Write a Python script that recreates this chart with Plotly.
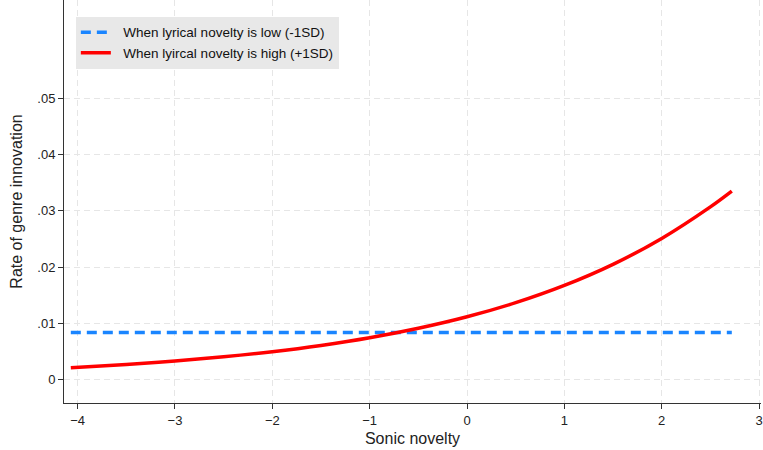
import plotly.graph_objects as go

# Data
sonic_x = [-4.07, -3.5, -3.0, -2.5, -2.0, -1.5, -1.0, -0.5, 0.0, 0.5, 1.0, 1.5, 2.0, 2.5, 2.72]
low_lyrical = [0.0084] * len(sonic_x)
high_lyrical = [0.00217, 0.00273, 0.00334, 0.00409, 0.0050, 0.00612, 0.00748, 0.00916,
                0.0112, 0.0137, 0.01676, 0.0205, 0.0251, 0.0307, 0.0335]

x_ticks = [-4, -3, -2, -1, 0, 1, 2, 3]
y_ticks = [0, 0.01, 0.02, 0.03, 0.04, 0.05]
y_tick_labels = ["0", ".01", ".02", ".03", ".04", ".05"]

FONT = "Liberation Sans, Arial, Helvetica, sans-serif"

fig = go.Figure()
fig.add_trace(go.Scatter(
    x=sonic_x, y=low_lyrical, mode="lines",
    name="  When lyrical novelty is low (-1SD)",
    line=dict(color="#1a85ff", width=3.5, dash="10px,6px"),
))
fig.add_trace(go.Scatter(
    x=sonic_x, y=high_lyrical, mode="lines",
    name="  When lyircal novelty is high (+1SD)",
    line=dict(color="#ff0000", width=3.5, shape="spline"),
))

grid = dict(showgrid=True, gridcolor="#e6e6e6", gridwidth=1, griddash="6px,4px")

fig.update_layout(
    width=763, height=450,
    margin=dict(l=64, r=0, t=0, b=47),
    paper_bgcolor="white", plot_bgcolor="white",
    font=dict(family=FONT, color="#222222", size=13),
    showlegend=True,
    legend=dict(
        x=0.017, y=0.958, xanchor="left", yanchor="top",
        bgcolor="#e8e8e8", borderwidth=0,
        font=dict(family=FONT, size=13.5, color="#111111"),
        tracegroupgap=0,
    ),
    xaxis=dict(
        range=[-4.14, 3.02], tickvals=x_ticks,
        showline=True, linecolor="#333333", linewidth=1,
        ticks="outside", ticklen=5, tickcolor="#333333",
        tickfont=dict(size=13), zeroline=False, ticklabeloverflow="allow",
        title=dict(text="Sonic novelty", font=dict(size=16), standoff=6),
        **grid,
    ),
    yaxis=dict(
        range=[-0.0041, 0.0674], tickvals=y_ticks, ticktext=y_tick_labels,
        showline=True, linecolor="#333333", linewidth=1,
        ticks="outside", ticklen=5, tickcolor="#333333",
        tickfont=dict(size=13), zeroline=False,
        title=dict(text="Rate of genre innovation", font=dict(size=16), standoff=10),
        **grid,
    ),
)

fig.write_html("out.html")
